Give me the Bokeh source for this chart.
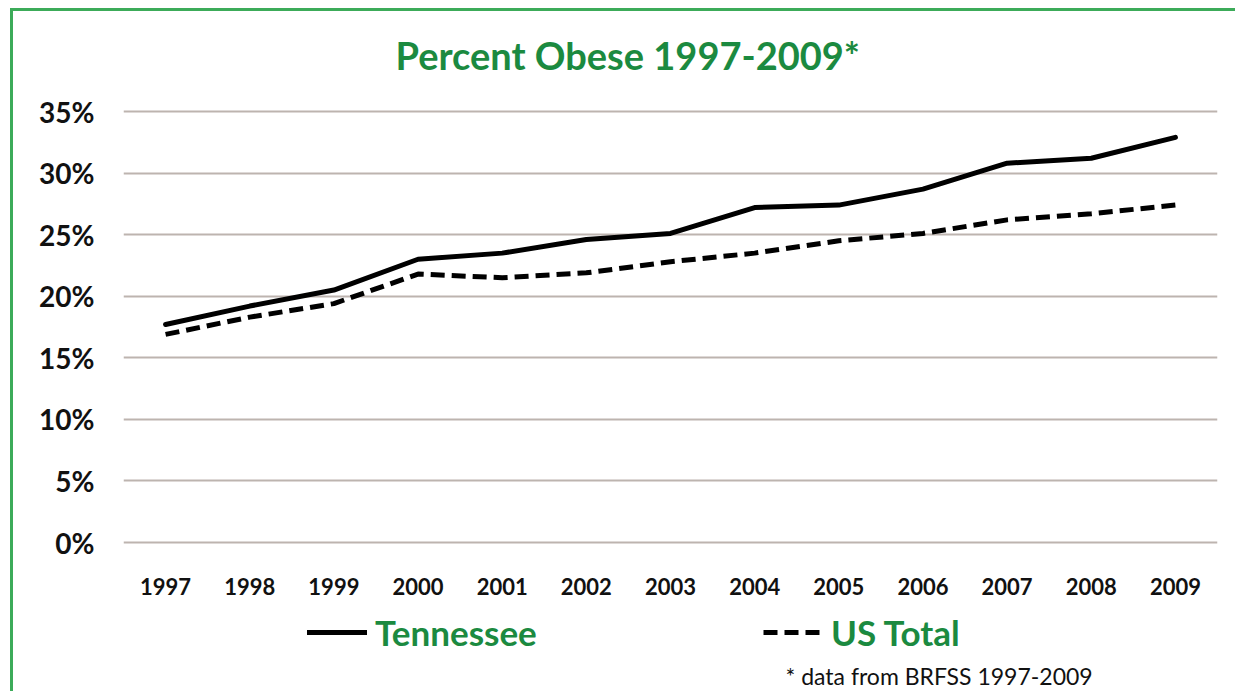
from bokeh.plotting import figure
from bokeh.layouts import column
from bokeh.models import Legend, LegendItem, FixedTicker, Title, Label, Range1d
from bokeh.embed import file_html
from bokeh.resources import INLINE

# Percent of adults classified obese, BRFSS
years = ["1997", "1998", "1999", "2000", "2001", "2002", "2003",
         "2004", "2005", "2006", "2007", "2008", "2009"]
tennessee = [17.7, 19.2, 20.5, 23.0, 23.5, 24.6, 25.1, 27.2, 27.4, 28.7, 30.8, 31.2, 32.9]
us_total = [16.9, 18.3, 19.4, 21.8, 21.5, 21.9, 22.8, 23.5, 24.5, 25.1, 26.2, 26.7, 27.4]
y_ticks = [0, 5, 10, 15, 20, 25, 30, 35]
y_tick_labels = ["0%", "5%", "10%", "15%", "20%", "25%", "30%", "35%"]

GREEN = "#1b8a40"
BORDER_GREEN = "#3cab59"
FONT = "Lato"

W = 1235
H_CHART, H_KEY = 600, 91
LEFT, RIGHT, TOP, BOTTOM = 123, 18, 99, 53
NAN = float("nan")

p = figure(x_range=years, y_range=(-0.406, 35.975), width=W, height=H_CHART,
           output_backend="svg", toolbar_location=None,
           min_border_left=LEFT, min_border_right=RIGHT,
           min_border_top=TOP, min_border_bottom=BOTTOM)
p.outline_line_color = None
p.background_fill_color = "white"
p.border_fill_alpha = 0

# green rule along the left and top edges of the page
rule = f"linear-gradient({BORDER_GREEN},{BORDER_GREEN})"
p.styles = {"background": f"{rule} 10px 8px / 3px 100% no-repeat, {rule} 10px 8px / 100% 3px no-repeat, white"}

p.title = Title(text="Percent Obese 1997-2009*", align="left", offset=272,
                text_font=FONT, text_font_style="bold", text_font_size="38px",
                text_color=GREEN, standoff=44)

# axes: labels only
p.yaxis.ticker = FixedTicker(ticks=y_ticks)
p.yaxis.major_label_overrides = {t: s for t, s in zip(y_ticks, y_tick_labels)}
for ax in (p.xaxis, p.yaxis):
    ax.axis_line_color = None
    ax.major_tick_line_color = None
    ax.minor_tick_line_color = None
    ax.major_label_text_font = FONT
    ax.major_label_text_font_style = "bold"
    ax.major_label_text_color = "#111111"
p.yaxis.major_label_text_font_size = "28px"
p.yaxis.major_label_standoff = 23
p.xaxis.major_label_text_font_size = "22px"
p.xaxis.major_label_standoff = 24

p.xgrid.grid_line_color = None
p.ygrid.ticker = FixedTicker(ticks=y_ticks)
p.ygrid.grid_line_color = "#bdb4af"
p.ygrid.grid_line_width = 2

TN_STYLE = dict(line_color="black", line_width=5, line_join="round", line_cap="round")
US_STYLE = dict(line_color="black", line_width=5, line_dash="14 7", line_join="round")
p.line(years, tennessee, **TN_STYLE)
p.line(years, us_total, **US_STYLE)

# key strip beneath the chart (its frame lines up with the chart frame,
# so x positions are measured from the frame's left edge)
KW = W - LEFT - RIGHT
k = figure(width=W, height=H_KEY, x_range=Range1d(0, KW), y_range=Range1d(0, H_KEY),
           output_backend="svg", toolbar_location=None,
           min_border_left=LEFT, min_border_right=RIGHT,
           min_border_top=0, min_border_bottom=0)
k.axis.visible = False
k.grid.visible = False
k.outline_line_color = None
k.background_fill_alpha = 0
k.border_fill_alpha = 0
k.styles = {"background": f"{rule} 10px 0px / 3px 100% no-repeat, white"}

# style carriers for the legend samples (nothing visible is plotted)
k_tn = k.line(x=[NAN], y=[NAN], **TN_STYLE)
k_us = k.line(x=[NAN], y=[NAN], **US_STYLE)

for label, rend, x0 in [("Tennessee", k_tn, 307 - LEFT), ("US Total", k_us, 763 - LEFT)]:
    k.add_layout(Legend(items=[LegendItem(label=label, renderers=[rend])],
                        location=(x0, 38), orientation="horizontal",
                        glyph_width=60, glyph_height=36, label_standoff=8,
                        label_height=36,
                        label_text_font=FONT, label_text_font_style="bold",
                        label_text_font_size="35px", label_text_color=GREEN,
                        border_line_color=None, background_fill_alpha=0,
                        padding=0, margin=0))

k.add_layout(Label(x=785 - LEFT, y=16, text="* data from BRFSS 1997-2009",
                   text_align="left", text_baseline="middle",
                   text_font=FONT, text_font_size="23px", text_color="#111111"))

layout = column(p, k, spacing=0)
open("out.html", "w").write(file_html(layout, INLINE))
